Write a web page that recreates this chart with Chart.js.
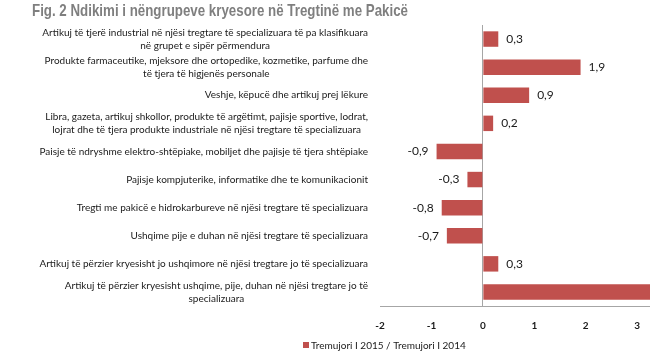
<!DOCTYPE html>
<html>
<head>
<meta charset="utf-8">
<script src="https://cdn.jsdelivr.net/npm/chart.js@4.4.1/dist/chart.umd.min.js"></script>
<style>
  html, body { margin: 0; padding: 0; background: #fff; overflow: hidden; }
  #wrap { width: 650px; height: 354px; position: relative; }
</style>
</head>
<body>
<div id="wrap"><canvas id="chart" width="650" height="354"></canvas></div>
<script>
// data
var categories = [
  ["Artikuj të tjerë industrial në njësi tregtare të specializuara të pa klasifikuara", "në grupet e sipër përmendura"],
  ["Produkte farmaceutike, mjeksore dhe ortopedike, kozmetike, parfume dhe", "të tjera të higjenës personale"],
  ["Veshje, këpucë dhe artikuj prej lëkure"],
  ["Libra, gazeta, artikuj shkollor, produkte të argëtimt, pajisje sportive, lodrat,", "lojrat dhe të tjera produkte industriale në njësi tregtare të specializuara"],
  ["Paisje të ndryshme elektro-shtëpiake, mobiljet dhe pajisje të tjera shtëpiake"],
  ["Pajisje kompjuterike, informatike dhe te komunikacionit"],
  ["Tregti me pakicë e hidrokarbureve në njësi tregtare të specializuara"],
  ["Ushqime pije e duhan në njësi tregtare të specializuara"],
  ["Artikuj të përzier kryesisht jo ushqimore në njësi tregtare jo të specializuara"],
  ["Artikuj të përzier kryesisht ushqime, pije, duhan në njësi tregtare jo të", "specializuara"]
];
var values = [0.3, 1.9, 0.9, 0.2, -0.9, -0.3, -0.8, -0.7, 0.3, 4.2];
var seriesName = "Tremujori I 2015 / Tremujori I 2014";
var xTicks = [-2, -1, 0, 1, 2, 3];
var titleText = "Fig. 2 Ndikimi i nëngrupeve kryesore në Tregtinë me Pakicë";

var barColor = '#C0504D';
var labelFont = '10px Lato, "Open Sans", sans-serif';

// title, category labels (centered block, right aligned), value labels and legend
var extras = {
  id: 'extras',
  afterDraw: function (chart) {
    var ctx = chart.ctx;
    var y = chart.scales.y;
    ctx.save();

    // title, squeezed like a narrow bold face
    ctx.font = 'bold 17px "Liberation Sans", Arial, sans-serif';
    ctx.fillStyle = '#7f7f7f';
    ctx.textBaseline = 'alphabetic';
    ctx.textAlign = 'left';
    var tw = ctx.measureText(titleText).width;
    ctx.save();
    ctx.translate(32, 16);
    ctx.scale(376 / tw, 1);
    ctx.fillText(titleText, 0, 0);
    ctx.restore();

    ctx.font = labelFont;
    ctx.fillStyle = '#1a1a1a';
    ctx.textBaseline = 'middle';
    ctx.textAlign = 'center';
    categories.forEach(function (lines, i) {
      var cy = y.getPixelForValue(i);
      var w = 0;
      lines.forEach(function (l) { w = Math.max(w, ctx.measureText(l).width); });
      var cx = 368 - w / 2;
      var lh = 13;
      var top = cy - (lines.length - 1) * lh / 2;
      lines.forEach(function (l, k) { ctx.fillText(l, cx, top + k * lh); });
    });

    // value labels
    var meta = chart.getDatasetMeta(0);
    ctx.font = '12px Lato, "Open Sans", sans-serif';
    meta.data.forEach(function (bar, i) {
      var v = values[i];
      var txt = v.toFixed(1).replace('.', ',');
      if (v >= 0) {
        ctx.textAlign = 'left';
        ctx.fillText(txt, bar.x + 8, bar.y);
      } else {
        ctx.textAlign = 'right';
        ctx.fillText(txt, bar.x - 8, bar.y);
      }
    });

    // legend
    ctx.fillStyle = barColor;
    ctx.fillRect(303, 342, 6, 6);
    ctx.font = labelFont;
    ctx.fillStyle = '#1a1a1a';
    ctx.textAlign = 'left';
    ctx.fillText(seriesName, 311, 345.5);
    ctx.restore();
  }
};

new Chart(document.getElementById('chart'), {
  type: 'bar',
  data: {
    labels: categories,
    datasets: [{
      label: seriesName,
      data: values,
      backgroundColor: barColor,
      categoryPercentage: 1,
      barPercentage: 0.55
    }]
  },
  options: {
    indexAxis: 'y',
    responsive: false,
    animation: false,
    layout: { padding: { left: 0, right: 0, top: 25, bottom: 8 } },
    plugins: {
      legend: { display: false },
      tooltip: { enabled: false },
      title: { display: false }
    },
    scales: {
      x: {
        min: -2,
        max: 3.25,
        afterBuildTicks: function (scale) {
          scale.ticks = xTicks.map(function (v) { return { value: v }; });
        },
        afterFit: function (scale) {
          scale.paddingLeft = 0;
          scale.paddingRight = 0;
        },
        ticks: {
          color: '#1a1a1a',
          font: { family: 'Lato, "Open Sans", sans-serif', size: 10, weight: 'bold' },
          padding: 14
        },
        grid: {
          color: function (c) { return c.tick && c.tick.value === 0 ? '#a6a6a6' : 'rgba(0,0,0,0)'; },
          drawTicks: false
        },
        border: { display: true, color: '#a6a6a6' }
      },
      y: {
        ticks: { display: false },
        grid: { display: false },
        border: { display: false },
        afterFit: function (scale) { scale.width = 380; }
      }
    }
  },
  plugins: [extras]
});
</script>
</body>
</html>
